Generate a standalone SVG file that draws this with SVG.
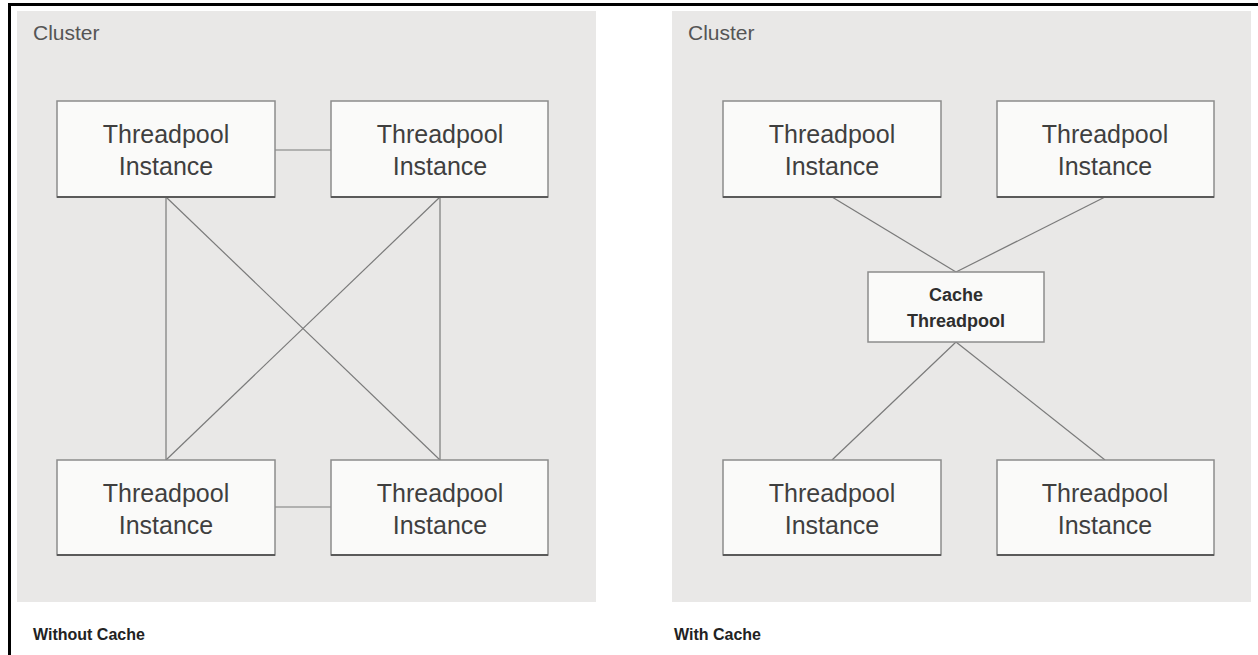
<svg xmlns="http://www.w3.org/2000/svg" width="1258" height="655" viewBox="0 0 1258 655">
<style>
.bg{fill:#ffffff}
.frame{fill:none;stroke:#000;stroke-width:3}
.cluster{fill:#e9e8e7}
.clabel{font-family:"Liberation Sans",Arial,sans-serif;font-size:21px;fill:#555}
.box{fill:#fafaf9;stroke:#8c8c8c;stroke-width:1.5}
.shadow{stroke:#5a5a5a;stroke-width:2}
.t{font-family:"Liberation Sans",Arial,sans-serif;font-size:25px;fill:#3f3f3f;text-anchor:middle}
.tb{font-family:"Liberation Sans",Arial,sans-serif;font-size:18px;font-weight:bold;fill:#2e2e2e;text-anchor:middle}
.cap{font-family:"Liberation Sans",Arial,sans-serif;font-size:16px;font-weight:bold;fill:#222}
.conn line{stroke:#7a7a7a;stroke-width:1.2}
</style>
<rect class="bg" x="0" y="0" width="1258" height="655"/>
<path class="frame" d="M9.5 660 V4.5 H1260"/>

<g id="cluster-left">
<rect class="cluster" x="17" y="11" width="579" height="591"/>
<text class="clabel" x="33" y="40">Cluster</text>
</g>
<g id="cluster-right">
<rect class="cluster" x="672" y="11" width="579" height="591"/>
<text class="clabel" x="688" y="40">Cluster</text>
</g>

<g id="connectors" class="conn">
<line x1="275" y1="150" x2="331" y2="150"/>
<line x1="275" y1="507" x2="331" y2="507"/>
<line x1="166" y1="197" x2="166" y2="460"/>
<line x1="440" y1="197" x2="440" y2="460"/>
<line x1="166" y1="197" x2="440" y2="460"/>
<line x1="440" y1="197" x2="166" y2="460"/>
<line x1="832" y1="197" x2="956" y2="272"/>
<line x1="1105" y1="197" x2="956" y2="272"/>
<line x1="956" y1="342" x2="832" y2="460"/>
<line x1="956" y1="342" x2="1105" y2="460"/>
</g>

<g id="l-tl">
<rect class="box" x="57" y="101" width="218" height="96"/>
<line class="shadow" x1="57" y1="197" x2="275" y2="197"/>
<text class="t" x="166" y="143">Threadpool</text>
<text class="t" x="166" y="175">Instance</text>
</g>
<g id="l-tr">
<rect class="box" x="331" y="101" width="217" height="96"/>
<line class="shadow" x1="331" y1="197" x2="548" y2="197"/>
<text class="t" x="440" y="143">Threadpool</text>
<text class="t" x="440" y="175">Instance</text>
</g>
<g id="l-bl">
<rect class="box" x="57" y="460" width="218" height="95"/>
<line class="shadow" x1="57" y1="555" x2="275" y2="555"/>
<text class="t" x="166" y="502">Threadpool</text>
<text class="t" x="166" y="534">Instance</text>
</g>
<g id="l-br">
<rect class="box" x="331" y="460" width="217" height="95"/>
<line class="shadow" x1="331" y1="555" x2="548" y2="555"/>
<text class="t" x="440" y="502">Threadpool</text>
<text class="t" x="440" y="534">Instance</text>
</g>

<g id="r-tl">
<rect class="box" x="723" y="101" width="218" height="96"/>
<line class="shadow" x1="723" y1="197" x2="941" y2="197"/>
<text class="t" x="832" y="143">Threadpool</text>
<text class="t" x="832" y="175">Instance</text>
</g>
<g id="r-tr">
<rect class="box" x="997" y="101" width="217" height="96"/>
<line class="shadow" x1="997" y1="197" x2="1214" y2="197"/>
<text class="t" x="1105" y="143">Threadpool</text>
<text class="t" x="1105" y="175">Instance</text>
</g>
<g id="r-cache">
<rect class="box" x="868" y="272" width="176" height="70"/>
<text class="tb" x="956" y="301">Cache</text>
<text class="tb" x="956" y="327">Threadpool</text>
</g>
<g id="r-bl">
<rect class="box" x="723" y="460" width="218" height="95"/>
<line class="shadow" x1="723" y1="555" x2="941" y2="555"/>
<text class="t" x="832" y="502">Threadpool</text>
<text class="t" x="832" y="534">Instance</text>
</g>
<g id="r-br">
<rect class="box" x="997" y="460" width="217" height="95"/>
<line class="shadow" x1="997" y1="555" x2="1214" y2="555"/>
<text class="t" x="1105" y="502">Threadpool</text>
<text class="t" x="1105" y="534">Instance</text>
</g>

<text class="cap" x="33" y="640">Without Cache</text>
<text class="cap" x="674" y="640">With Cache</text>
</svg>
